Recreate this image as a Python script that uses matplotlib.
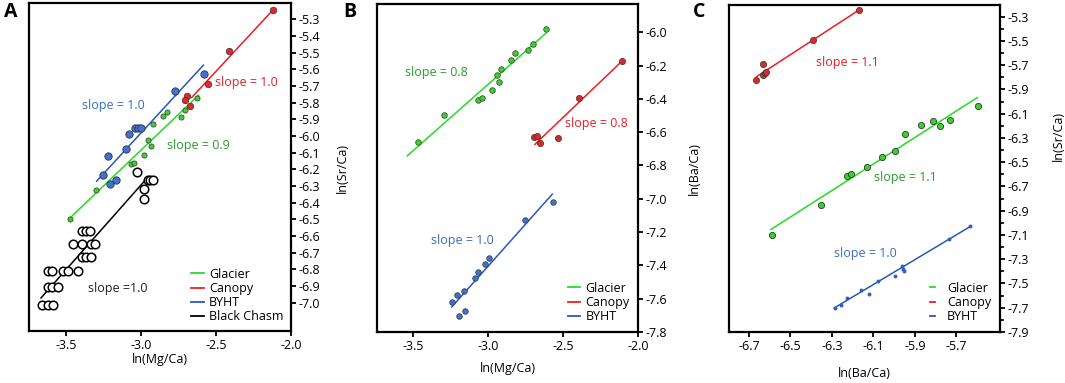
import matplotlib
matplotlib.use("Agg")
import matplotlib.pyplot as plt
from matplotlib.ticker import MultipleLocator, FixedLocator
from matplotlib.lines import Line2D

plt.rcParams['font.family'] = ['Open Sans', 'DejaVu Sans']

GREEN = '#22dd22'
RED = '#ee1c24'
BLUE = '#2a56c0'
GREEN_TXT = '#2a9d2a'
BLUE_TXT = '#3a6cc8'
RED_TXT = '#e8202a'

# ---------------- panel A: ln(Sr/Ca) vs ln(Mg/Ca) ----------------
a_glacier_x = [-2.624, -2.709, -2.736, -2.829, -2.853, -2.918, -2.951, -2.931, -2.982, -3.067, -3.049, -3.300, -3.473]
a_glacier_y = [-5.772, -5.846, -5.884, -5.858, -5.882, -5.930, -6.026, -6.060, -6.114, -6.166, -6.160, -6.326, -6.496]
a_canopy_x = [-2.122, -2.416, -2.556, -2.693, -2.704, -2.673]
a_canopy_y = [-5.246, -5.490, -5.686, -5.760, -5.782, -5.822]
a_byht_x = [-2.582, -2.771, -3.038, -3.020, -3.002, -3.082, -3.100, -3.220, -3.256, -3.209, -3.169]
a_byht_y = [-5.630, -5.730, -5.954, -5.954, -5.954, -5.990, -6.080, -6.122, -6.232, -6.288, -6.262]
a_chasm_x = [-3.027, -2.956, -2.938, -2.920, -2.982, -2.982,
             -3.393, -3.367, -3.338, -3.453, -3.393, -3.333, -3.304,
             -3.393, -3.367, -3.336, -3.622, -3.593, -3.518, -3.484, -3.422,
             -3.622, -3.593, -3.551, -3.660, -3.622, -3.589]
a_chasm_y = [-6.216, -6.266, -6.266, -6.266, -6.320, -6.376,
             -6.570, -6.570, -6.570, -6.646, -6.646, -6.646, -6.646,
             -6.726, -6.726, -6.726, -6.812, -6.812, -6.812, -6.812, -6.812,
             -6.906, -6.906, -6.906, -7.012, -7.012, -7.012]
# fitted lines (end points)
a_fit_glacier = ([-3.478, -2.616], [-6.496, -5.756])
a_fit_canopy = ([-2.662, -2.120], [-5.770, -5.245])
a_fit_byht = ([-3.296, -2.584], [-6.272, -5.576])
a_fit_chasm = ([-3.667, -2.962], [-6.972, -6.256])

# ---------------- panel B ----------------
b_glacier_x = [-3.467, -3.296, -3.067, -3.044, -2.978, -2.944, -2.927, -2.916, -2.851, -2.822, -2.733, -2.704, -2.618]
b_glacier_y = [-6.661, -6.499, -6.407, -6.397, -6.347, -6.255, -6.297, -6.220, -6.168, -6.126, -6.104, -6.072, -5.980]
b_canopy_x = [-2.107, -2.398, -2.538, -2.693, -2.678, -2.656]
b_canopy_y = [-6.172, -6.393, -6.635, -6.627, -6.623, -6.667]
b_byht_x = [-2.571, -2.756, -2.993, -3.022, -3.071, -3.091, -3.164, -3.209, -3.244, -3.198, -3.158]
b_byht_y = [-7.020, -7.130, -7.357, -7.391, -7.441, -7.473, -7.553, -7.579, -7.620, -7.702, -7.676]
b_fit_glacier = ([-3.540, -2.616], [-6.742, -6.006])
b_fit_canopy = ([-2.689, -2.107], [-6.673, -6.172])
b_fit_byht = ([-3.244, -2.573], [-7.650, -6.972])

# ---------------- panel C ----------------
c_glacier_x = [-6.591, -6.355, -6.226, -6.209, -6.132, -6.061, -5.995, -5.949, -5.872, -5.812, -5.779, -5.730, -5.597]
c_glacier_y = [-7.099, -6.852, -6.615, -6.601, -6.543, -6.461, -6.409, -6.268, -6.197, -6.161, -6.202, -6.153, -6.040]
c_canopy_x = [-6.169, -6.390, -6.634, -6.666, -6.631, -6.623, -6.618]
c_canopy_y = [-5.245, -5.493, -5.691, -5.823, -5.781, -5.768, -5.757]
c_byht_x = [-6.286, -6.257, -6.228, -6.159, -6.122, -6.080, -5.994, -5.962, -5.957, -5.954, -5.735, -5.636]
c_byht_y = [-7.702, -7.674, -7.619, -7.553, -7.583, -7.479, -7.440, -7.358, -7.380, -7.396, -7.135, -7.025]
c_fit_glacier = ([-6.594, -5.600], [-7.055, -5.968])
c_fit_canopy = ([-6.663, -6.169], [-5.795, -5.245])
c_fit_byht = ([-6.289, -5.636], [-7.702, -7.033])

a_ticks_y = [-5.3, -5.4, -5.5, -5.6, -5.7, -5.8, -5.9, -6.0, -6.1, -6.2, -6.3, -6.4, -6.5, -6.6, -6.7, -6.8, -6.9, -7.0]
b_ticks_y = [-6.0, -6.2, -6.4, -6.6, -6.8, -7.0, -7.2, -7.4, -7.6, -7.8]
c_ticks_y = [-5.3, -5.5, -5.7, -5.9, -6.1, -6.3, -6.5, -6.7, -6.9, -7.1, -7.3, -7.5, -7.7, -7.9]
mg_ticks = [-3.5, -3.0, -2.5, -2.0]
ba_ticks = [-6.7, -6.5, -6.3, -6.1, -5.9, -5.7]

fig = plt.figure(figsize=(10.65, 3.83), dpi=100)
axA = fig.add_axes([0.0272, 0.1358, 0.246, 0.856])
axB = fig.add_axes([0.354, 0.1332, 0.2453, 0.8564])
axC = fig.add_axes([0.6845, 0.1332, 0.2545, 0.8538])

for ax in (axA, axB, axC):
    for s in ax.spines.values():
        s.set_linewidth(1.6)
    ax.yaxis.tick_right()
    ax.tick_params(direction='out', length=3.5, width=1.3, labelsize=9, pad=2)
    ax.tick_params(axis='y', which='minor', direction='out', length=3, width=1.2, right=True, left=False)

edge = '#333333'

# panel A
axA.plot(*a_fit_glacier, color=GREEN, lw=1.1)
axA.plot(*a_fit_canopy, color=RED, lw=1.1)
axA.plot(*a_fit_byht, color=BLUE, lw=1.1)
axA.plot(*a_fit_chasm, color='black', lw=1.1)
axA.scatter(a_glacier_x, a_glacier_y, s=14, color='#3bd12a', edgecolor=edge, lw=0.5, zorder=3)
axA.scatter(a_canopy_x, a_canopy_y, s=22, color='#e02a2a', edgecolor=edge, lw=0.5, zorder=3)
axA.scatter(a_byht_x, a_byht_y, s=28, color='#3f72d2', edgecolor=edge, lw=0.6, zorder=3)
axA.scatter(a_chasm_x, a_chasm_y, s=38, facecolor='white', edgecolor='black', lw=1.1, zorder=3)
axA.set_xlim(-3.747, -2.0)
axA.set_ylim(-7.17, -5.204)
axA.xaxis.set_major_locator(FixedLocator(mg_ticks))
axA.yaxis.set_major_locator(FixedLocator(a_ticks_y))
axA.set_xticklabels([f'{v:.1f}' for v in mg_ticks])
axA.set_yticklabels([f'{v:.1f}' for v in a_ticks_y])
axA.set_xlabel('ln(Mg/Ca)', fontsize=9, labelpad=1)
axA.text(-3.182, -5.816, 'slope = 1.0', color=BLUE_TXT, fontsize=9, ha='center', va='center')
axA.text(-2.296, -5.682, 'slope = 1.0', color=RED_TXT, fontsize=9, ha='center', va='center')
axA.text(-2.616, -6.060, 'slope = 0.9', color=GREEN_TXT, fontsize=9, ha='center', va='center')
axA.text(-3.156, -6.916, 'slope =1.0', color='#222222', fontsize=9, ha='center', va='center')

# panel B
axB.plot(*b_fit_glacier, color=GREEN, lw=1.1)
axB.plot(*b_fit_canopy, color=RED, lw=1.1)
axB.plot(*b_fit_byht, color=BLUE, lw=1.1)
axB.scatter(b_glacier_x, b_glacier_y, s=16, color='#3bd12a', edgecolor=edge, lw=0.5, zorder=3)
axB.scatter(b_canopy_x, b_canopy_y, s=20, color='#d82a2a', edgecolor=edge, lw=0.5, zorder=3)
axB.scatter(b_byht_x, b_byht_y, s=16, color='#3f72d2', edgecolor=edge, lw=0.5, zorder=3)
axB.set_xlim(-3.742, -2.0)
axB.set_ylim(-7.8, -5.83)
axB.xaxis.set_major_locator(FixedLocator(mg_ticks))
axB.yaxis.set_major_locator(FixedLocator(b_ticks_y))
axB.set_xticklabels([f'{v:.1f}' for v in mg_ticks])
axB.set_yticklabels([f'{v:.1f}' for v in b_ticks_y])
axB.set_xlabel('ln(Mg/Ca)', fontsize=9, labelpad=7)
axB.yaxis.set_label_position('left')
axB.set_ylabel('ln(Sr/Ca)', fontsize=9, labelpad=20)
axB.text(-3.344, -6.243, 'slope = 0.8', color=GREEN_TXT, fontsize=9, ha='center', va='center')
axB.text(-2.282, -6.547, 'slope = 0.8', color=RED_TXT, fontsize=9, ha='center', va='center')
axB.text(-3.173, -7.249, 'slope = 1.0', color=BLUE_TXT, fontsize=9, ha='center', va='center')

# panel C
axC.plot(*c_fit_glacier, color=GREEN, lw=1.1)
axC.plot(*c_fit_canopy, color=RED, lw=1.1)
axC.plot(*c_fit_byht, color=BLUE, lw=1.1)
axC.scatter(c_glacier_x, c_glacier_y, s=20, color='#3bd12a', edgecolor=edge, lw=0.6, zorder=3)
axC.scatter(c_canopy_x, c_canopy_y, s=20, color='#d82a2a', edgecolor=edge, lw=0.5, zorder=3)
axC.scatter(c_byht_x, c_byht_y, s=8, color='#2f5fc8', lw=0, zorder=3)
axC.set_xlim(-6.796, -5.49)
axC.set_ylim(-7.9, -5.204)
axC.xaxis.set_major_locator(FixedLocator(ba_ticks))
axC.yaxis.set_major_locator(FixedLocator(c_ticks_y))
axC.yaxis.set_minor_locator(MultipleLocator(0.1))
axC.set_xticklabels([f'{v:.1f}' for v in ba_ticks])
axC.set_yticklabels([f'{v:.1f}' for v in c_ticks_y])
axC.set_xlabel('ln(Ba/Ca)', fontsize=9, labelpad=10)
axC.yaxis.set_label_position('left')
axC.set_ylabel('ln(Ba/Ca)', fontsize=9, labelpad=20)
axC.text(1.215, 0.6, 'ln(Sr/Ca)', transform=axC.transAxes, rotation=90, fontsize=9, ha='center', va='center')
axC.text(-6.225, -5.677, 'slope = 1.1', color=RED_TXT, fontsize=9, ha='center', va='center')
axC.text(-5.946, -6.629, 'slope = 1.1', color=GREEN_TXT, fontsize=9, ha='center', va='center')
axC.text(-6.141, -7.253, 'slope = 1.0', color=BLUE_TXT, fontsize=9, ha='center', va='center')

# legends
def handles(names, colors):
    return [Line2D([0], [0], color=c, lw=1.3, label=n) for n, c in zip(names, colors)]

axA.legend(handles=handles(['Glacier', 'Canopy', 'BYHT', 'Black Chasm'], [GREEN, RED, BLUE, 'black']),
           loc='lower right', frameon=False, fontsize=9, handlelength=1.0, handletextpad=0.4,
           labelspacing=0.1, borderaxespad=0.2)
axB.legend(handles=handles(['Glacier', 'Canopy', 'BYHT'], [GREEN, RED, BLUE]),
           loc='lower right', frameon=False, fontsize=9, handlelength=1.0, handletextpad=0.4,
           labelspacing=0.1, borderaxespad=0.3)
axC.legend(handles=handles(['Glacier', 'Canopy', 'BYHT'], [GREEN, RED, BLUE]),
           loc='lower right', frameon=False, fontsize=9, handlelength=0.4, handletextpad=1.0,
           labelspacing=0.1, borderaxespad=0.3)

# panel letters
fig.text(0.004, 0.955, 'A', fontsize=14, fontweight='bold')
fig.text(0.322, 0.955, 'B', fontsize=14, fontweight='bold')
fig.text(0.651, 0.955, 'C', fontsize=14, fontweight='bold')

fig.savefig('out.png', dpi=100)
